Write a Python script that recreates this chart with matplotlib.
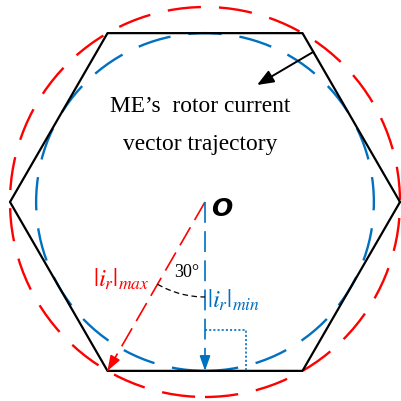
import numpy as np
import matplotlib
matplotlib.use("Agg")
import matplotlib.pyplot as plt
from matplotlib.patches import Circle, Arc

plt.rcParams['lines.scale_dashes'] = False
plt.rcParams['mathtext.fontset'] = 'stix'

# Geometry of the voltage hexagon (normalised to the circumradius)
hex_angles_deg = [0, 60, 120, 180, 240, 300, 360]
r_max = 1.0                          # circumscribed circle radius
r_min = np.cos(np.radians(30))       # inscribed circle radius
angle_label = "30°"
sector_angle = 30

RED = "#FF0000"
BLUE = "#0070C0"

fig = plt.figure(figsize=(4.02, 4.01), dpi=100)
ax = fig.add_axes([0, 0, 1, 1])
ax.set_xlim(-1.0513, 1.0103)
ax.set_ylim(-1.0205, 1.0359)
ax.set_aspect('equal')
ax.axis('off')

# Hexagon
th = np.radians(hex_angles_deg)
ax.plot(r_max * np.cos(th), r_max * np.sin(th), color='black', lw=1.6, zorder=3)

# Circumscribed and inscribed trajectories
dash_long = (0, (24, 13))
ax.add_patch(Circle((0, 0), r_max, fill=False, ec=RED, lw=1.7, ls=dash_long, zorder=2))
ax.add_patch(Circle((0, 0), r_min, fill=False, ec=BLUE, lw=1.7, ls=dash_long, zorder=2))

# Radial vectors: to the hexagon vertex (max) and to the edge midpoint (min)
def radial(angle_deg, radius, color):
    a = np.radians(angle_deg)
    end = np.array([radius * np.cos(a), radius * np.sin(a)])
    ax.plot([0, end[0]], [0, end[1]], color=color, lw=1.2, ls=(0, (15, 6)), zorder=4)
    back = end - 0.07 * end / np.linalg.norm(end)
    ax.annotate('', xy=end, xytext=back,
                arrowprops=dict(arrowstyle='-|>,head_length=0.9,head_width=0.32',
                                color=color, lw=1.2, shrinkA=0, shrinkB=0), zorder=5)
    return end

vmax_angle = 270 - sector_angle
radial(vmax_angle, r_max, RED)
end_min = radial(270, r_min, BLUE)

# Angle arc between the two vectors
ax.add_patch(Arc((0, 0), 2 * 0.487, 2 * 0.487, theta1=vmax_angle, theta2=270,
                 color='black', lw=0.9, ls=(0, (4, 2.5)), zorder=4))

# Right-angle marker at the edge midpoint
sq = 0.212
ax.plot([end_min[0], end_min[0] + sq, end_min[0] + sq],
        [end_min[1] + sq, end_min[1] + sq, end_min[1]],
        color=BLUE, lw=1.2, ls=(0, (1.5, 1.5)), zorder=4)

# Labels
ax.text(0.087, -0.036, 'O', fontsize=18, fontstyle='italic', fontweight='bold',
        family='DejaVu Sans', ha='center', va='center')
ax.text(-0.092, -0.359, angle_label, fontsize=13, family='Liberation Serif',
        ha='center', va='center')
ax.text(-0.431, -0.395, r'$|i_r|_{max}$', fontsize=18, color=RED,
        ha='center', va='center')
ax.text(0.148, -0.503, r'$|i_r|_{min}$', fontsize=18, color=BLUE,
        ha='center', va='center')

ax.text(-0.023, 0.462, 'ME’s  rotor current', fontsize=16.8, family='Liberation Serif',
        ha='center', va='baseline')
ax.text(-0.023, 0.267, 'vector trajectory', fontsize=16.8, family='Liberation Serif',
        ha='center', va='baseline')

# Pointer from the hexagon edge toward the caption
t = 0.111
p0 = np.array([np.cos(th[0]), np.sin(th[0])])
p1 = np.array([np.cos(th[1]), np.sin(th[1])])
start = p0 + (1 - t) * (p1 - p0)
ax.annotate('', xy=(0.267, 0.6), xytext=start,
            arrowprops=dict(arrowstyle='-|>,head_length=1.0,head_width=0.4',
                            color='black', lw=1.4, shrinkA=0, shrinkB=0), zorder=5)

fig.savefig('out.png', dpi=100)
